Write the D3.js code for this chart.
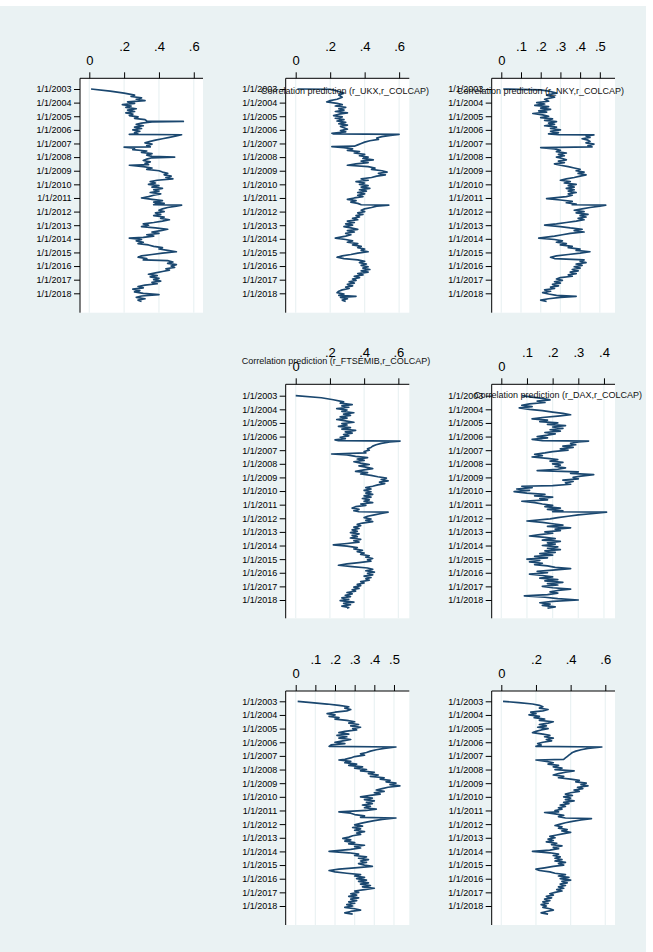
<!DOCTYPE html>
<html>
<head>
<meta charset="utf-8">
<script src="https://cdn.jsdelivr.net/npm/d3@7"></script>
<style>
  body { margin: 0; background: #ffffff; }
  svg { display: block; font-family: "Liberation Sans", Arial, Helvetica, sans-serif; }
  .yaxis text { font-size: 9px; fill: #000; }
  .xaxis text { font-size: 13px; fill: #000; }
  .title { font-size: 9px; fill: #111; }
</style>
</head>
<body>
<script>
// date ticks on the vertical axis
var yearTicks = [2003, 2004, 2005, 2006, 2007, 2008, 2009, 2010, 2011, 2012, 2013, 2014, 2015, 2016, 2017, 2018];

// correlation ticks per panel
var ticksA = [0, 0.2, 0.4, 0.6];
var ticksB = [0, 0.1, 0.2, 0.3, 0.4, 0.5];
var ticksC = [0, 0.1, 0.2, 0.3, 0.4];

var titles = [
    "",
    "Correlation prediction (r_UKX,r_COLCAP)",
    "Correlation prediction (r_NKY,r_COLCAP)",
    "Correlation prediction (r_FTSEMIB,r_COLCAP)",
    "Correlation prediction (r_DAX,r_COLCAP)",
    "",
    ""
];

// [year, predicted correlation]
var s1 = [[2003.0,0.01],[2003.15,0.12],[2003.3,0.2],[2003.45,0.26],[2003.55,0.24],[2003.65,0.3],[2003.75,0.27],[2003.85,0.32],[2003.95,0.22],[2004.05,0.26],[2004.15,0.19],[2004.25,0.24],[2004.35,0.21],[2004.45,0.27],[2004.55,0.22],[2004.65,0.26],[2004.75,0.21],[2004.85,0.25],[2004.95,0.23],[2005.05,0.28],[2005.15,0.26],[2005.25,0.32],[2005.35,0.33],[2005.38,0.54],[2005.42,0.36],[2005.5,0.3],[2005.6,0.27],[2005.7,0.31],[2005.8,0.26],[2005.9,0.3],[2006.0,0.25],[2006.1,0.29],[2006.2,0.26],[2006.3,0.28],[2006.33,0.23],[2006.36,0.53],[2006.45,0.5],[2006.55,0.46],[2006.65,0.42],[2006.75,0.38],[2006.85,0.35],[2006.95,0.32],[2007.05,0.36],[2007.15,0.33],[2007.25,0.35],[2007.27,0.2],[2007.35,0.26],[2007.45,0.25],[2007.55,0.33],[2007.65,0.3],[2007.75,0.36],[2007.85,0.33],[2007.95,0.36],[2008.0,0.49],[2008.05,0.36],[2008.15,0.33],[2008.25,0.31],[2008.35,0.35],[2008.45,0.32],[2008.55,0.34],[2008.6,0.23],[2008.7,0.31],[2008.8,0.36],[2008.9,0.33],[2009.0,0.4],[2009.1,0.42],[2009.2,0.45],[2009.3,0.43],[2009.4,0.47],[2009.5,0.44],[2009.6,0.48],[2009.7,0.39],[2009.8,0.35],[2009.9,0.38],[2010.0,0.34],[2010.1,0.4],[2010.2,0.36],[2010.3,0.42],[2010.4,0.37],[2010.5,0.4],[2010.6,0.35],[2010.7,0.41],[2010.8,0.37],[2010.9,0.34],[2011.0,0.3],[2011.1,0.36],[2011.2,0.42],[2011.3,0.37],[2011.4,0.43],[2011.45,0.38],[2011.5,0.37],[2011.53,0.53],[2011.6,0.5],[2011.7,0.45],[2011.8,0.42],[2011.9,0.4],[2012.0,0.43],[2012.1,0.38],[2012.2,0.41],[2012.3,0.37],[2012.4,0.43],[2012.5,0.41],[2012.6,0.46],[2012.7,0.42],[2012.8,0.37],[2012.9,0.31],[2013.0,0.34],[2013.1,0.3],[2013.2,0.38],[2013.3,0.45],[2013.4,0.41],[2013.5,0.36],[2013.6,0.4],[2013.7,0.33],[2013.8,0.37],[2013.9,0.31],[2013.95,0.23],[2014.05,0.3],[2014.15,0.27],[2014.25,0.31],[2014.35,0.28],[2014.45,0.34],[2014.55,0.37],[2014.65,0.42],[2014.75,0.4],[2014.85,0.45],[2014.95,0.5],[2015.05,0.42],[2015.15,0.36],[2015.25,0.3],[2015.35,0.28],[2015.45,0.33],[2015.55,0.31],[2015.6,0.45],[2015.7,0.48],[2015.8,0.45],[2015.9,0.5],[2016.0,0.47],[2016.1,0.49],[2016.2,0.44],[2016.3,0.46],[2016.4,0.42],[2016.5,0.38],[2016.6,0.34],[2016.7,0.39],[2016.8,0.35],[2016.9,0.4],[2017.0,0.37],[2017.1,0.41],[2017.2,0.36],[2017.3,0.39],[2017.4,0.32],[2017.5,0.28],[2017.6,0.31],[2017.7,0.25],[2017.8,0.29],[2017.9,0.26],[2018.0,0.31],[2018.1,0.4],[2018.2,0.3],[2018.3,0.27],[2018.4,0.32],[2018.5,0.28],[2018.6,0.3]];

var s2 = [[2003.0,0.01],[2003.02,0.2],[2003.15,0.24],[2003.3,0.28],[2003.45,0.25],[2003.6,0.27],[2003.75,0.24],[2003.85,0.2],[2003.95,0.18],[2004.05,0.24],[2004.15,0.27],[2004.25,0.23],[2004.35,0.29],[2004.45,0.25],[2004.55,0.28],[2004.65,0.23],[2004.75,0.3],[2004.85,0.25],[2004.95,0.22],[2005.05,0.27],[2005.15,0.23],[2005.25,0.28],[2005.35,0.24],[2005.45,0.29],[2005.55,0.25],[2005.65,0.3],[2005.75,0.26],[2005.85,0.28],[2005.95,0.3],[2006.05,0.26],[2006.15,0.29],[2006.25,0.21],[2006.3,0.22],[2006.33,0.6],[2006.4,0.55],[2006.5,0.5],[2006.6,0.47],[2006.7,0.48],[2006.8,0.43],[2006.9,0.4],[2007.0,0.38],[2007.1,0.36],[2007.2,0.34],[2007.23,0.21],[2007.3,0.28],[2007.4,0.33],[2007.5,0.3],[2007.6,0.37],[2007.7,0.34],[2007.8,0.4],[2007.9,0.37],[2008.0,0.42],[2008.1,0.39],[2008.2,0.45],[2008.3,0.38],[2008.4,0.42],[2008.5,0.35],[2008.6,0.3],[2008.7,0.42],[2008.8,0.46],[2008.9,0.44],[2009.0,0.5],[2009.1,0.53],[2009.2,0.48],[2009.3,0.52],[2009.4,0.47],[2009.5,0.44],[2009.6,0.38],[2009.7,0.42],[2009.8,0.35],[2009.9,0.4],[2010.0,0.37],[2010.1,0.42],[2010.2,0.38],[2010.3,0.43],[2010.4,0.37],[2010.5,0.41],[2010.6,0.36],[2010.7,0.4],[2010.8,0.36],[2010.9,0.39],[2011.0,0.34],[2011.1,0.3],[2011.2,0.35],[2011.3,0.32],[2011.4,0.36],[2011.5,0.38],[2011.53,0.54],[2011.6,0.47],[2011.7,0.44],[2011.8,0.4],[2011.9,0.38],[2012.0,0.4],[2012.1,0.36],[2012.2,0.39],[2012.3,0.35],[2012.4,0.37],[2012.5,0.33],[2012.6,0.36],[2012.7,0.3],[2012.8,0.34],[2012.9,0.29],[2013.0,0.33],[2013.1,0.28],[2013.2,0.32],[2013.3,0.36],[2013.4,0.3],[2013.5,0.34],[2013.6,0.29],[2013.7,0.32],[2013.8,0.29],[2013.95,0.23],[2014.05,0.29],[2014.15,0.33],[2014.25,0.3],[2014.35,0.36],[2014.45,0.33],[2014.55,0.38],[2014.65,0.36],[2014.75,0.4],[2014.85,0.38],[2014.95,0.42],[2015.05,0.36],[2015.15,0.32],[2015.25,0.27],[2015.35,0.24],[2015.45,0.28],[2015.55,0.36],[2015.65,0.4],[2015.75,0.37],[2015.85,0.41],[2015.95,0.38],[2016.05,0.42],[2016.15,0.39],[2016.25,0.43],[2016.35,0.38],[2016.45,0.42],[2016.55,0.36],[2016.65,0.39],[2016.75,0.34],[2016.85,0.37],[2016.95,0.33],[2017.05,0.35],[2017.15,0.31],[2017.25,0.34],[2017.35,0.3],[2017.45,0.33],[2017.55,0.29],[2017.65,0.31],[2017.75,0.27],[2017.85,0.25],[2017.95,0.24],[2018.05,0.28],[2018.15,0.25],[2018.22,0.35],[2018.3,0.26],[2018.4,0.3],[2018.5,0.27],[2018.6,0.29]];

var s3 = [[2003.0,0.01],[2003.07,0.2],[2003.15,0.24],[2003.3,0.28],[2003.45,0.23],[2003.6,0.27],[2003.75,0.22],[2003.9,0.24],[2004.0,0.18],[2004.1,0.22],[2004.2,0.17],[2004.3,0.24],[2004.4,0.2],[2004.5,0.25],[2004.6,0.19],[2004.7,0.23],[2004.8,0.16],[2004.9,0.21],[2005.0,0.24],[2005.1,0.2],[2005.2,0.26],[2005.3,0.22],[2005.4,0.28],[2005.5,0.24],[2005.6,0.27],[2005.7,0.22],[2005.8,0.28],[2005.9,0.25],[2006.0,0.3],[2006.1,0.25],[2006.2,0.29],[2006.3,0.24],[2006.35,0.29],[2006.37,0.47],[2006.45,0.43],[2006.55,0.45],[2006.65,0.41],[2006.75,0.44],[2006.85,0.45],[2006.95,0.43],[2007.05,0.47],[2007.15,0.44],[2007.25,0.46],[2007.3,0.2],[2007.4,0.27],[2007.5,0.3],[2007.6,0.28],[2007.7,0.33],[2007.8,0.29],[2007.9,0.32],[2008.0,0.28],[2008.1,0.31],[2008.2,0.33],[2008.3,0.29],[2008.4,0.32],[2008.5,0.27],[2008.6,0.3],[2008.7,0.34],[2008.8,0.37],[2008.9,0.4],[2009.0,0.38],[2009.1,0.42],[2009.2,0.39],[2009.3,0.43],[2009.4,0.4],[2009.5,0.37],[2009.6,0.33],[2009.7,0.3],[2009.8,0.35],[2009.9,0.32],[2010.0,0.38],[2010.1,0.34],[2010.2,0.37],[2010.3,0.33],[2010.4,0.37],[2010.5,0.34],[2010.6,0.38],[2010.7,0.34],[2010.8,0.36],[2010.9,0.33],[2011.05,0.23],[2011.15,0.3],[2011.25,0.36],[2011.35,0.33],[2011.45,0.38],[2011.5,0.36],[2011.53,0.53],[2011.6,0.5],[2011.7,0.45],[2011.8,0.41],[2011.9,0.37],[2012.0,0.42],[2012.1,0.38],[2012.2,0.44],[2012.3,0.4],[2012.4,0.43],[2012.5,0.39],[2012.6,0.42],[2012.7,0.38],[2012.8,0.33],[2012.9,0.28],[2013.0,0.22],[2013.1,0.3],[2013.2,0.35],[2013.3,0.41],[2013.4,0.37],[2013.5,0.42],[2013.6,0.35],[2013.7,0.31],[2013.8,0.27],[2013.95,0.19],[2014.05,0.27],[2014.15,0.31],[2014.25,0.28],[2014.35,0.33],[2014.45,0.3],[2014.55,0.36],[2014.65,0.34],[2014.75,0.4],[2014.85,0.38],[2014.95,0.45],[2015.05,0.4],[2015.15,0.34],[2015.25,0.28],[2015.35,0.25],[2015.45,0.27],[2015.55,0.42],[2015.65,0.4],[2015.75,0.43],[2015.85,0.38],[2015.95,0.41],[2016.05,0.37],[2016.15,0.4],[2016.25,0.36],[2016.35,0.39],[2016.45,0.35],[2016.55,0.38],[2016.65,0.34],[2016.75,0.36],[2016.85,0.3],[2016.95,0.28],[2017.05,0.31],[2017.15,0.27],[2017.25,0.3],[2017.35,0.26],[2017.45,0.29],[2017.55,0.25],[2017.65,0.27],[2017.75,0.22],[2017.85,0.25],[2017.95,0.21],[2018.05,0.24],[2018.15,0.28],[2018.22,0.38],[2018.3,0.3],[2018.4,0.24],[2018.5,0.2],[2018.6,0.23]];

var s4 = [[2003.0,0.0],[2003.15,0.15],[2003.3,0.22],[2003.45,0.28],[2003.55,0.26],[2003.65,0.33],[2003.75,0.27],[2003.85,0.31],[2003.95,0.24],[2004.05,0.3],[2004.15,0.27],[2004.25,0.34],[2004.35,0.28],[2004.45,0.32],[2004.55,0.26],[2004.65,0.3],[2004.75,0.24],[2004.85,0.29],[2004.95,0.34],[2005.05,0.27],[2005.15,0.3],[2005.25,0.25],[2005.35,0.32],[2005.45,0.27],[2005.55,0.35],[2005.65,0.29],[2005.75,0.33],[2005.85,0.28],[2005.95,0.31],[2006.05,0.26],[2006.15,0.29],[2006.25,0.23],[2006.3,0.25],[2006.33,0.61],[2006.4,0.55],[2006.5,0.5],[2006.6,0.47],[2006.7,0.45],[2006.8,0.44],[2006.9,0.42],[2007.0,0.43],[2007.1,0.4],[2007.2,0.41],[2007.28,0.21],[2007.35,0.3],[2007.45,0.35],[2007.55,0.42],[2007.65,0.36],[2007.75,0.4],[2007.85,0.34],[2007.95,0.38],[2008.05,0.43],[2008.15,0.37],[2008.25,0.41],[2008.35,0.45],[2008.45,0.4],[2008.55,0.35],[2008.65,0.42],[2008.75,0.38],[2008.85,0.44],[2008.95,0.48],[2009.05,0.53],[2009.15,0.5],[2009.25,0.54],[2009.35,0.49],[2009.45,0.52],[2009.55,0.48],[2009.65,0.45],[2009.75,0.41],[2009.85,0.44],[2009.95,0.4],[2010.05,0.44],[2010.15,0.41],[2010.25,0.45],[2010.35,0.4],[2010.45,0.44],[2010.55,0.39],[2010.65,0.43],[2010.75,0.4],[2010.85,0.45],[2010.95,0.38],[2011.05,0.41],[2011.15,0.35],[2011.25,0.33],[2011.35,0.37],[2011.45,0.34],[2011.52,0.37],[2011.55,0.54],[2011.65,0.5],[2011.75,0.46],[2011.85,0.42],[2011.95,0.4],[2012.05,0.44],[2012.15,0.41],[2012.25,0.45],[2012.35,0.39],[2012.45,0.36],[2012.55,0.38],[2012.65,0.34],[2012.75,0.37],[2012.85,0.33],[2012.95,0.36],[2013.05,0.32],[2013.15,0.37],[2013.25,0.33],[2013.35,0.36],[2013.45,0.32],[2013.55,0.38],[2013.65,0.34],[2013.75,0.37],[2013.85,0.3],[2013.95,0.22],[2014.05,0.3],[2014.15,0.36],[2014.25,0.34],[2014.35,0.39],[2014.45,0.36],[2014.55,0.4],[2014.65,0.38],[2014.75,0.43],[2014.85,0.41],[2014.95,0.45],[2015.05,0.42],[2015.15,0.44],[2015.25,0.37],[2015.35,0.3],[2015.45,0.25],[2015.55,0.33],[2015.65,0.42],[2015.75,0.45],[2015.85,0.41],[2015.95,0.46],[2016.05,0.42],[2016.15,0.45],[2016.25,0.4],[2016.35,0.44],[2016.45,0.41],[2016.55,0.43],[2016.65,0.38],[2016.75,0.4],[2016.85,0.36],[2016.95,0.38],[2017.05,0.34],[2017.15,0.37],[2017.25,0.33],[2017.35,0.35],[2017.45,0.3],[2017.55,0.33],[2017.65,0.29],[2017.75,0.32],[2017.85,0.27],[2017.95,0.31],[2018.05,0.26],[2018.15,0.34],[2018.25,0.28],[2018.35,0.32],[2018.45,0.27],[2018.55,0.31],[2018.6,0.3]];

var s5 = [[2003.0,0.08],[2003.1,0.12],[2003.2,0.16],[2003.3,0.19],[2003.4,0.14],[2003.5,0.17],[2003.6,0.11],[2003.7,0.08],[2003.8,0.12],[2003.9,0.07],[2004.0,0.11],[2004.1,0.16],[2004.2,0.2],[2004.3,0.24],[2004.4,0.27],[2004.5,0.22],[2004.6,0.16],[2004.7,0.12],[2004.8,0.18],[2004.9,0.15],[2005.0,0.22],[2005.1,0.18],[2005.2,0.25],[2005.3,0.2],[2005.4,0.24],[2005.5,0.19],[2005.6,0.23],[2005.7,0.17],[2005.8,0.21],[2005.9,0.18],[2006.0,0.14],[2006.1,0.18],[2006.2,0.12],[2006.3,0.16],[2006.33,0.34],[2006.4,0.3],[2006.5,0.27],[2006.6,0.29],[2006.7,0.24],[2006.8,0.28],[2006.9,0.23],[2007.0,0.26],[2007.1,0.2],[2007.2,0.17],[2007.3,0.13],[2007.4,0.16],[2007.5,0.12],[2007.6,0.18],[2007.7,0.22],[2007.8,0.19],[2007.9,0.24],[2008.0,0.2],[2008.1,0.23],[2008.2,0.21],[2008.3,0.25],[2008.4,0.22],[2008.5,0.14],[2008.6,0.3],[2008.7,0.27],[2008.8,0.36],[2008.9,0.31],[2009.0,0.28],[2009.1,0.3],[2009.2,0.24],[2009.3,0.28],[2009.4,0.25],[2009.5,0.27],[2009.6,0.2],[2009.65,0.08],[2009.75,0.12],[2009.85,0.06],[2009.95,0.11],[2010.05,0.05],[2010.15,0.1],[2010.25,0.17],[2010.35,0.13],[2010.45,0.2],[2010.55,0.15],[2010.65,0.18],[2010.75,0.08],[2010.85,0.13],[2010.95,0.16],[2011.05,0.2],[2011.15,0.17],[2011.25,0.23],[2011.35,0.18],[2011.45,0.24],[2011.52,0.2],[2011.55,0.41],[2011.65,0.36],[2011.75,0.3],[2011.85,0.26],[2011.95,0.22],[2012.05,0.19],[2012.2,0.1],[2012.3,0.16],[2012.4,0.2],[2012.5,0.24],[2012.6,0.18],[2012.7,0.27],[2012.8,0.21],[2012.9,0.23],[2013.0,0.17],[2013.1,0.2],[2013.2,0.15],[2013.3,0.11],[2013.4,0.17],[2013.5,0.21],[2013.6,0.16],[2013.7,0.23],[2013.8,0.18],[2013.9,0.21],[2014.0,0.16],[2014.1,0.22],[2014.2,0.18],[2014.3,0.23],[2014.4,0.17],[2014.5,0.21],[2014.6,0.15],[2014.7,0.2],[2014.8,0.13],[2014.9,0.18],[2015.0,0.1],[2015.1,0.15],[2015.2,0.11],[2015.3,0.16],[2015.4,0.13],[2015.5,0.18],[2015.6,0.21],[2015.7,0.27],[2015.8,0.2],[2015.9,0.14],[2016.0,0.18],[2016.1,0.11],[2016.2,0.16],[2016.3,0.2],[2016.4,0.15],[2016.5,0.22],[2016.6,0.17],[2016.7,0.24],[2016.8,0.18],[2016.9,0.22],[2017.0,0.16],[2017.1,0.2],[2017.2,0.27],[2017.3,0.22],[2017.4,0.19],[2017.5,0.22],[2017.6,0.18],[2017.7,0.09],[2017.8,0.17],[2017.9,0.22],[2018.0,0.3],[2018.1,0.2],[2018.2,0.15],[2018.3,0.19],[2018.4,0.16],[2018.5,0.21],[2018.6,0.18]];

var s6 = [[2003.0,0.01],[2003.1,0.08],[2003.2,0.16],[2003.3,0.22],[2003.4,0.27],[2003.5,0.25],[2003.6,0.28],[2003.7,0.26],[2003.8,0.2],[2003.9,0.16],[2004.0,0.2],[2004.1,0.17],[2004.2,0.22],[2004.3,0.2],[2004.4,0.26],[2004.5,0.3],[2004.6,0.27],[2004.7,0.32],[2004.8,0.28],[2004.9,0.33],[2005.0,0.29],[2005.1,0.31],[2005.2,0.25],[2005.3,0.22],[2005.4,0.27],[2005.5,0.21],[2005.6,0.26],[2005.7,0.22],[2005.8,0.28],[2005.9,0.24],[2006.0,0.2],[2006.1,0.25],[2006.2,0.18],[2006.3,0.17],[2006.35,0.51],[2006.45,0.45],[2006.55,0.41],[2006.65,0.38],[2006.75,0.36],[2006.85,0.33],[2006.95,0.35],[2007.05,0.3],[2007.15,0.28],[2007.25,0.25],[2007.3,0.22],[2007.4,0.28],[2007.5,0.25],[2007.6,0.31],[2007.7,0.27],[2007.8,0.34],[2007.9,0.3],[2008.0,0.36],[2008.1,0.33],[2008.2,0.4],[2008.3,0.37],[2008.4,0.42],[2008.5,0.38],[2008.6,0.45],[2008.7,0.43],[2008.8,0.48],[2008.9,0.46],[2009.0,0.51],[2009.1,0.48],[2009.2,0.53],[2009.3,0.47],[2009.4,0.44],[2009.5,0.41],[2009.6,0.45],[2009.7,0.4],[2009.8,0.43],[2009.9,0.38],[2010.0,0.33],[2010.1,0.39],[2010.2,0.35],[2010.3,0.4],[2010.4,0.36],[2010.5,0.39],[2010.6,0.34],[2010.7,0.38],[2010.8,0.35],[2010.9,0.41],[2011.0,0.36],[2011.1,0.22],[2011.2,0.28],[2011.3,0.3],[2011.4,0.35],[2011.5,0.33],[2011.55,0.51],[2011.65,0.44],[2011.75,0.4],[2011.85,0.36],[2011.95,0.33],[2012.05,0.3],[2012.15,0.34],[2012.25,0.29],[2012.35,0.33],[2012.45,0.3],[2012.55,0.35],[2012.65,0.31],[2012.75,0.33],[2012.85,0.29],[2012.95,0.27],[2013.05,0.24],[2013.15,0.28],[2013.25,0.25],[2013.35,0.3],[2013.45,0.27],[2013.55,0.35],[2013.65,0.3],[2013.75,0.33],[2013.85,0.28],[2014.0,0.17],[2014.1,0.27],[2014.2,0.32],[2014.3,0.3],[2014.4,0.36],[2014.5,0.32],[2014.6,0.37],[2014.7,0.33],[2014.8,0.36],[2014.9,0.32],[2015.0,0.35],[2015.1,0.39],[2015.2,0.3],[2015.3,0.22],[2015.4,0.17],[2015.5,0.2],[2015.6,0.26],[2015.7,0.33],[2015.8,0.3],[2015.9,0.35],[2016.0,0.31],[2016.1,0.36],[2016.2,0.32],[2016.3,0.37],[2016.4,0.33],[2016.5,0.38],[2016.6,0.34],[2016.7,0.4],[2016.8,0.35],[2016.9,0.3],[2017.0,0.32],[2017.1,0.28],[2017.2,0.31],[2017.3,0.27],[2017.4,0.32],[2017.5,0.28],[2017.6,0.31],[2017.7,0.27],[2017.8,0.3],[2017.9,0.26],[2018.0,0.29],[2018.1,0.25],[2018.2,0.3],[2018.3,0.33],[2018.4,0.28],[2018.5,0.25],[2018.6,0.29]];

var s7 = [[2003.0,0.01],[2003.1,0.1],[2003.2,0.18],[2003.3,0.22],[2003.4,0.24],[2003.5,0.22],[2003.6,0.27],[2003.7,0.24],[2003.8,0.17],[2003.9,0.2],[2004.0,0.16],[2004.1,0.22],[2004.2,0.19],[2004.3,0.25],[2004.4,0.22],[2004.5,0.3],[2004.6,0.27],[2004.7,0.22],[2004.8,0.26],[2004.9,0.21],[2005.0,0.27],[2005.1,0.23],[2005.2,0.2],[2005.3,0.18],[2005.4,0.24],[2005.5,0.28],[2005.6,0.25],[2005.7,0.3],[2005.8,0.26],[2005.9,0.29],[2006.0,0.24],[2006.1,0.21],[2006.2,0.23],[2006.3,0.2],[2006.35,0.58],[2006.45,0.5],[2006.55,0.46],[2006.65,0.43],[2006.75,0.41],[2006.85,0.4],[2006.95,0.39],[2007.05,0.38],[2007.15,0.37],[2007.25,0.36],[2007.3,0.2],[2007.4,0.26],[2007.5,0.3],[2007.6,0.27],[2007.7,0.33],[2007.8,0.3],[2007.9,0.35],[2008.0,0.31],[2008.1,0.42],[2008.2,0.37],[2008.3,0.33],[2008.4,0.3],[2008.5,0.36],[2008.6,0.33],[2008.7,0.4],[2008.8,0.45],[2008.9,0.43],[2009.0,0.49],[2009.1,0.46],[2009.2,0.5],[2009.3,0.44],[2009.4,0.47],[2009.5,0.42],[2009.6,0.45],[2009.7,0.4],[2009.8,0.37],[2009.9,0.41],[2010.0,0.36],[2010.1,0.4],[2010.2,0.37],[2010.3,0.42],[2010.4,0.36],[2010.5,0.39],[2010.6,0.34],[2010.7,0.37],[2010.8,0.33],[2010.9,0.35],[2011.0,0.31],[2011.1,0.33],[2011.15,0.25],[2011.25,0.31],[2011.35,0.36],[2011.45,0.33],[2011.55,0.37],[2011.6,0.52],[2011.7,0.46],[2011.8,0.41],[2011.9,0.37],[2012.0,0.34],[2012.1,0.31],[2012.2,0.35],[2012.3,0.33],[2012.4,0.38],[2012.5,0.35],[2012.6,0.4],[2012.7,0.36],[2012.8,0.32],[2012.9,0.28],[2013.0,0.31],[2013.1,0.27],[2013.2,0.3],[2013.3,0.26],[2013.4,0.32],[2013.5,0.29],[2013.6,0.35],[2013.7,0.3],[2013.8,0.33],[2013.9,0.28],[2014.0,0.18],[2014.1,0.28],[2014.2,0.33],[2014.3,0.3],[2014.4,0.34],[2014.5,0.31],[2014.6,0.35],[2014.7,0.31],[2014.8,0.37],[2014.9,0.33],[2015.0,0.36],[2015.1,0.3],[2015.2,0.25],[2015.3,0.2],[2015.4,0.22],[2015.5,0.28],[2015.6,0.31],[2015.7,0.37],[2015.8,0.33],[2015.9,0.39],[2016.0,0.34],[2016.1,0.4],[2016.2,0.35],[2016.3,0.38],[2016.4,0.34],[2016.5,0.37],[2016.6,0.33],[2016.7,0.36],[2016.8,0.32],[2016.9,0.35],[2017.0,0.31],[2017.1,0.28],[2017.2,0.3],[2017.3,0.26],[2017.4,0.29],[2017.5,0.25],[2017.6,0.28],[2017.7,0.24],[2017.8,0.27],[2017.9,0.23],[2018.0,0.26],[2018.1,0.24],[2018.2,0.28],[2018.3,0.3],[2018.4,0.26],[2018.5,0.23],[2018.6,0.27]];

var W = 653, H = 952;
var lineColor = "#1a476f";
var bgColor = "#eaf2f3";

// plot regions of the combined graph (pixels)
var cols = [[80, 203], [285.7, 409.3], [491.7, 615]];
var rows = [
    { top: 78.3, bottom: 312.7, y03: 89, y18: 293.3 },
    { top: 384.3, bottom: 618.3, y03: 395.7, y18: 600 },
    { top: 691, bottom: 925, y03: 701.3, y18: 906 }
];

var panels = [
    { data: s1, ticks: ticksA, xDomain: [-0.0534, 0.653], col: 0, row: 0, title: titles[0] },
    { data: s2, ticks: ticksA, xDomain: [-0.058, 0.659], col: 1, row: 0, title: titles[1], tx: 345, ty: 94 },
    { data: s3, ticks: ticksB, xDomain: [-0.0487, 0.577], col: 2, row: 0, title: titles[2], tx: 540.5, ty: 94 },
    { data: s4, ticks: ticksA, xDomain: [-0.0585, 0.664], col: 1, row: 1, title: titles[3], tx: 336, ty: 364 },
    { data: s5, ticks: ticksC, xDomain: [-0.0374, 0.443], col: 2, row: 1, title: titles[4], tx: 558, ty: 398 },
    { data: s6, ticks: ticksB, xDomain: [-0.0509, 0.578], col: 1, row: 2, title: titles[5] },
    { data: s7, ticks: ticksA, xDomain: [-0.0554, 0.656], col: 2, row: 2, title: titles[6] }
];

var svg = d3.select("body").append("svg")
    .attr("width", W)
    .attr("height", H);

svg.append("rect")
    .attr("x", 0)
    .attr("y", 6)
    .attr("width", 646)
    .attr("height", H - 6)
    .attr("fill", bgColor);

function fmtCorr(d) {
    if (d === 0) return "0";
    return d3.format(".1f")(d).replace(/^0/, "");
}

function drawPanel(p) {
    var cx = cols[p.col], r = rows[p.row];

    var x = d3.scaleLinear()
        .domain(p.xDomain)
        .range([cx[0], cx[1]]);

    var y = d3.scaleLinear()
        .domain([2003, 2018])
        .range([r.y03, r.y18]);

    var g = svg.append("g").attr("class", "panel");

    g.append("rect")
        .attr("x", cx[0])
        .attr("y", r.top)
        .attr("width", cx[1] - cx[0])
        .attr("height", r.bottom - r.top)
        .attr("fill", "#ffffff");

    // vertical gridlines
    g.selectAll(".grid")
        .data(p.ticks)
        .enter().append("line")
        .attr("class", "grid")
        .attr("x1", function (d) { return x(d); })
        .attr("x2", function (d) { return x(d); })
        .attr("y1", r.top)
        .attr("y2", r.bottom)
        .attr("stroke", bgColor)
        .attr("stroke-width", 1.2);

    var line = d3.line()
        .x(function (d) { return x(d[1]); })
        .y(function (d) { return y(d[0]); });

    g.append("path")
        .datum(p.data)
        .attr("d", line)
        .attr("fill", "none")
        .attr("stroke", lineColor)
        .attr("stroke-width", 1.7)
        .attr("stroke-linejoin", "round");

    // top axis, labels staggered like the original
    var xAxis = d3.axisTop(x)
        .tickValues(p.ticks)
        .tickSize(6)
        .tickSizeOuter(0)
        .tickFormat(fmtCorr);

    var gx = g.append("g")
        .attr("class", "xaxis")
        .attr("transform", "translate(0," + r.top + ")")
        .call(xAxis);

    gx.select(".domain").remove();
    gx.append("line")
        .attr("x1", cx[0]).attr("x2", cx[1])
        .attr("y1", 0).attr("y2", 0)
        .attr("stroke", "#000");
    gx.selectAll(".tick line").attr("stroke", "#000");
    gx.selectAll(".tick text")
        .attr("font-family", null)
        .attr("font-size", null)
        .attr("dy", 0)
        .attr("y", function (d) { return d === 0 ? -13.5 : -27; });

    // left date axis
    var yAxis = d3.axisLeft(y)
        .tickValues(yearTicks)
        .tickSize(6)
        .tickPadding(2.5)
        .tickFormat(function (d) { return "1/1/" + d; });

    var gy = g.append("g")
        .attr("class", "yaxis")
        .attr("transform", "translate(" + cx[0] + ",0)")
        .call(yAxis);

    gy.select(".domain").remove();
    gy.append("line")
        .attr("x1", 0).attr("x2", 0)
        .attr("y1", r.top).attr("y2", r.bottom)
        .attr("stroke", "#000");
    gy.selectAll(".tick line").attr("stroke", "#000");
    gy.selectAll(".tick text")
        .attr("font-family", null)
        .attr("font-size", null);

    if (p.title) {
        g.append("text")
            .attr("class", "title")
            .attr("x", p.tx)
            .attr("y", p.ty)
            .attr("text-anchor", "middle")
            .text(p.title);
    }
}

panels.forEach(drawPanel);
</script>
</body>
</html>
